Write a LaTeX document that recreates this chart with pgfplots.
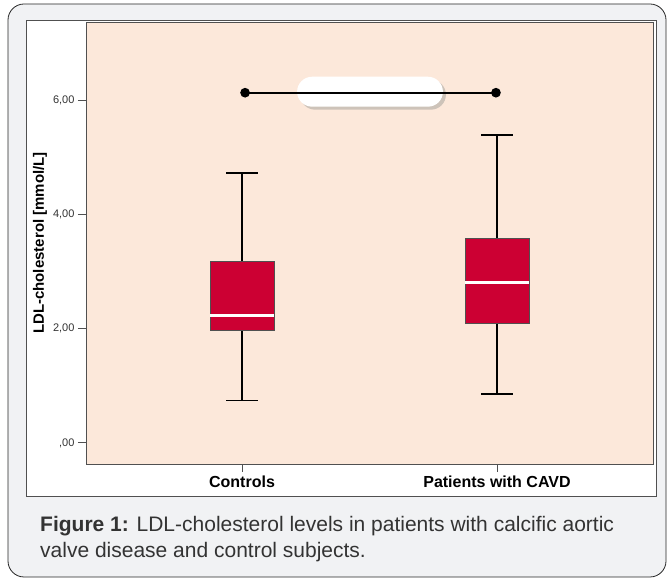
\documentclass[border=0pt]{standalone}
\usepackage{pgfplots}
\pgfplotsset{compat=1.18}
\usepgfplotslibrary{statistics}
\usepackage{fontspec}
\setmainfont{Liberation Sans}
\definecolor{framegray}{RGB}{241,242,244}
\definecolor{peach}{RGB}{252,232,218}
\definecolor{boxred}{RGB}{204,0,51}
\definecolor{captext}{RGB}{51,51,51}
\definecolor{axgray}{RGB}{80,80,80}
\definecolor{shadowc}{RGB}{205,195,185}
\begin{document}
\begin{tikzpicture}[x=1pt,y=1pt]
\path[use as bounding box] (0,0) rectangle (667,580);
\draw[fill=framegray, draw=black!85, line width=0.8pt, rounded corners=16pt] (8,576) rectangle (666,3);
\draw[fill=white, draw=axgray, line width=0.7pt] (26,560) rectangle (656,84);
\begin{axis}[at={(86pt,116pt)}, anchor=south west, scale only axis,
  width=567pt, height=442pt,
  xmin=0.388, xmax=2.612, ymin=-0.37, ymax=7.38,
  axis background/.style={fill=peach},
  axis line style={draw=axgray, line width=0.8pt},
  tick align=outside, tick style={draw=axgray, line width=0.8pt},
  major tick length=8pt,
  xtick={1,2}, xticklabels={Controls, Patients with CAVD},
  ytick={0,2,4,6}, yticklabels={{,00},{2,00},{4,00},{6,00}},
  xtick pos=bottom, ytick pos=left,
  x tick label style={font=\fontsize{16}{19}\selectfont\bfseries, text=black},
  y tick label style={font=\fontsize{11}{13}\selectfont, text=captext},
  ylabel={LDL-cholesterol [mmol/L]},
  ylabel style={font=\fontsize{15}{18}\selectfont\bfseries, text=black, at={(axis description cs:-0.081,0.5)}, anchor=center},
  boxplot/draw direction=y,
]
\fill[shadowc, rounded corners=15pt] ([xshift=3pt,yshift=-3pt]axis cs:1.216,6.42) rectangle ([xshift=3pt,yshift=-3pt]axis cs:1.788,5.895);
\fill[white, rounded corners=15pt] (axis cs:1.216,6.42) rectangle (axis cs:1.788,5.895);
\addplot[draw=black, line width=1.6pt, mark=*, mark size=4pt, mark options={fill=black}] coordinates {(1.012,6.14) (1.996,6.14)};
\addplot[boxplot prepared={draw position=1, lower whisker=0.74, lower quartile=1.97, median=2.23, upper quartile=3.18, upper whisker=4.73},
  boxplot/draw direction=y,
  boxplot/box extend=0.25, boxplot/whisker extend=0.125,
  boxplot/every box/.style={draw=axgray, fill=boxred, line width=0.6pt},
  boxplot/every whisker/.style={draw=black, line width=1.5pt},
  boxplot/every median/.style={draw=white, line width=2.6pt}] coordinates {};
\addplot[boxplot prepared={draw position=2, lower whisker=0.86, lower quartile=2.10, median=2.81, upper quartile=3.58, upper whisker=5.40},
  boxplot/draw direction=y,
  boxplot/box extend=0.25, boxplot/whisker extend=0.125,
  boxplot/every box/.style={draw=axgray, fill=boxred, line width=0.6pt},
  boxplot/every whisker/.style={draw=black, line width=1.5pt},
  boxplot/every median/.style={draw=white, line width=2.6pt}] coordinates {};
\end{axis}
\node[anchor=base west, font=\fontsize{21}{25}\selectfont, text=captext, inner sep=0pt] at (40,48) {\textbf{Figure 1:} LDL-cholesterol levels in patients with calcific aortic};
\node[anchor=base west, font=\fontsize{21}{25}\selectfont, text=captext, inner sep=0pt] at (40,22) {valve disease and control subjects.};
\end{tikzpicture}
\end{document}
